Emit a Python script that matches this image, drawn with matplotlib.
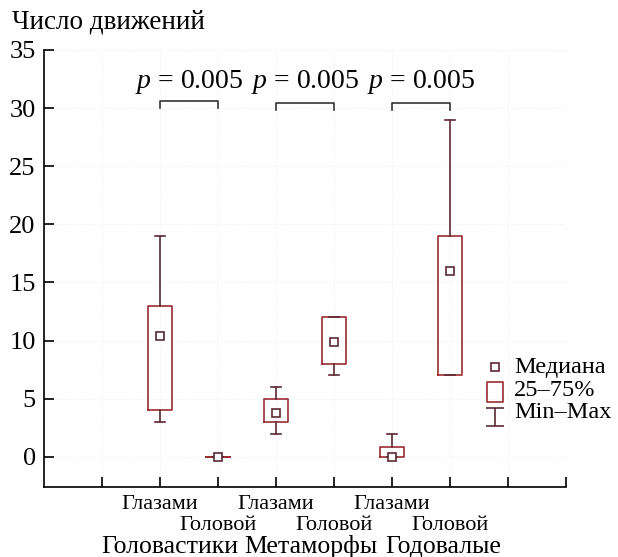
import numpy as np
import matplotlib.pyplot as plt
from matplotlib.path import Path

plt.rcParams['font.family'] = ['Liberation Serif', 'DejaVu Serif']
plt.rcParams['mathtext.fontset'] = 'custom'
plt.rcParams['mathtext.it'] = 'Liberation Serif:italic'
plt.rcParams['mathtext.rm'] = 'Liberation Serif'

### данные
positions = [2, 3, 4, 5, 6, 7]
med   = [10.4, 0.0, 3.8, 9.9, 0.0, 16.0]
q1    = [4.0, 0.0, 3.0, 8.0, 0.0, 7.0]
q3    = [13.0, 0.0, 5.0, 12.0, 0.8, 19.0]
vmin  = [3.0, 0.0, 2.0, 7.0, 0.0, 7.0]
vmax  = [19.0, 0.0, 6.0, 12.0, 2.0, 29.0]

sub_labels   = ['Глазами', 'Головой'] * 3
group_labels = ['Головастики', 'Метаморфы', 'Годовалые']
group_x      = [2.17, 4.6, 6.88]

p_text  = ['$p$ = 0.005'] * 3
p_pairs = [(2, 3), (4, 5), (6, 7)]
p_top   = [30.6, 30.4, 30.4]

leg_labels = ['Медиана', '25–75%', 'Min–Max']

box_col = '#9a2e34'
whis_col = '#5c2a34'

fig = plt.figure(figsize=(6.18, 5.57), dpi=100)
ax = fig.add_axes([44/618, 1-487/557, (566-44)/618, (487-50)/557])

stats = [dict(med=m, q1=a, q3=b, whislo=lo, whishi=hi, fliers=[])
         for m, a, b, lo, hi in zip(med, q1, q3, vmin, vmax)]
ax.bxp(stats, positions=positions, widths=0.4, showfliers=False,
       boxprops=dict(color=box_col, linewidth=1.2),
       whiskerprops=dict(color=whis_col, linewidth=1.2),
       capprops=dict(color=whis_col, linewidth=1.2),
       medianprops=dict(linestyle='none'), capwidths=0.17)
ax.plot(positions, med, 's', ms=6, mfc='white', mec=whis_col, mew=1.2, zorder=5)

# скобки p
for (a, b), top, txt in zip(p_pairs, p_top, p_text):
    ax.plot([a, a, b, b], [top - 0.55, top, top, top - 0.55], color='#333333', lw=1.2)
    ax.text((a + b) / 2, 31.7, txt, ha='center', va='baseline', fontsize=20)

ax.set_xlim(0, 9)
ax.set_ylim(-2.6, 35)
ax.set_yticks([0, 5, 10, 15, 20, 25, 30, 35])
ax.set_xticks(range(1, 10))
ax.set_xticklabels([])
ax.tick_params(axis='both', direction='in', length=7, width=1.2, labelsize=19)
ax.tick_params(axis='y', pad=6)
for s in ['top', 'right']:
    ax.spines[s].set_visible(False)
for s in ['left', 'bottom']:
    ax.spines[s].set_linewidth(1.2)
ax.grid(True, color='#f2f2f2', linestyle=':', linewidth=0.8)
ax.set_axisbelow(True)

# подписи категорий
trans = ax.get_xaxis_transform()
for i, (x, lab) in enumerate(zip(positions, sub_labels)):
    dy = -0.039 if i % 2 == 0 else -0.089
    ax.text(x, dy, lab, transform=trans, ha='center', va='center', fontsize=16)
for x, lab in zip(group_x, group_labels):
    ax.text(x, -0.137, lab, transform=trans, ha='center', va='center', fontsize=18.5)

fig.text(12/618, 1-22/557, 'Число движений', ha='left', va='center', fontsize=19.5)

# легенда (вручную)
ibeam = Path([(-1, 1), (1, 1), (0, 1), (0, -1), (-1, -1), (1, -1)],
             [Path.MOVETO, Path.LINETO, Path.MOVETO, Path.LINETO, Path.MOVETO, Path.LINETO])
rect = Path([(-0.8, -1), (0.8, -1), (0.8, 1), (-0.8, 1), (-0.8, -1)],
            [Path.MOVETO, Path.LINETO, Path.LINETO, Path.LINETO, Path.CLOSEPOLY])
leg_markers = ['s', rect, ibeam]
leg_ms      = [6, 14, 12.5]
leg_cols    = [whis_col, box_col, whis_col]
leg_my      = [367, 392, 417]
leg_ty      = [367, 391, 413]
for mk, ms, c, my, ty, lab in zip(leg_markers, leg_ms, leg_cols, leg_my, leg_ty, leg_labels):
    fig.add_artist(plt.Line2D([495/618], [1 - my/557], transform=fig.transFigure,
                              ls='none', marker=mk, ms=ms, mfc='white' if mk == 's' else 'none',
                              mec=c, mew=1.2))
    fig.text(514/618, 1 - ty/557, lab, ha='left', va='center', fontsize=17.5)

fig.savefig('out.png', dpi=100)
